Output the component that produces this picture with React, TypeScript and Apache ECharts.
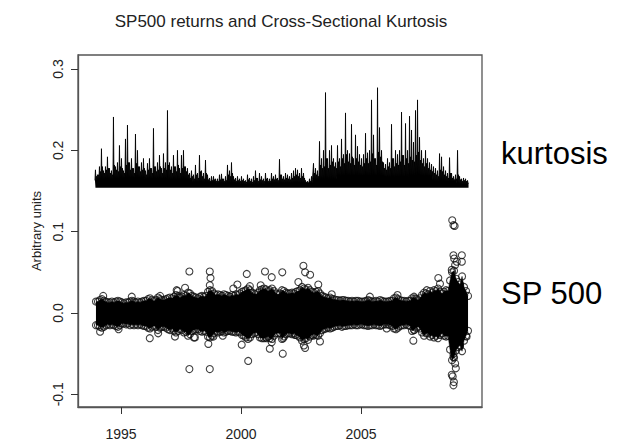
import React, { useEffect, useRef } from "react";
import * as echarts from "echarts";

// Time layout: first month is Dec 1993, then monthly through Jun 2009
const START_YEAR = 1993;
const START_MONTH = 11;

// Cross-sectional kurtosis (arbitrary units)
const KURT_BASE = 0.154; // lower edge of the kurtosis trace
// yearly top of the solid black part
const KURT_FLOOR = [0.163, 0.165, 0.166, 0.165, 0.164, 0.161, 0.16, 0.159, 0.16, 0.16, 0.164, 0.168, 0.168, 0.167, 0.168, 0.162, 0.159];
// monthly highest spike
const KURT_PEAKS: number[][] = [
  [0.176],
  [0.17, 0.18, 0.202, 0.175, 0.18, 0.192, 0.178, 0.175, 0.241, 0.18, 0.185, 0.206],
  [0.19, 0.175, 0.214, 0.231, 0.185, 0.19, 0.178, 0.22, 0.2, 0.18, 0.185, 0.19],
  [0.175, 0.184, 0.19, 0.178, 0.227, 0.18, 0.185, 0.194, 0.178, 0.196, 0.185, 0.249],
  [0.185, 0.18, 0.194, 0.18, 0.2, 0.178, 0.194, 0.2, 0.18, 0.178, 0.172, 0.175],
  [0.17, 0.182, 0.172, 0.194, 0.175, 0.172, 0.188, 0.17, 0.166, 0.168, 0.168, 0.165],
  [0.165, 0.17, 0.171, 0.165, 0.168, 0.182, 0.175, 0.185, 0.168, 0.166, 0.168, 0.165],
  [0.168, 0.165, 0.163, 0.17, 0.166, 0.165, 0.168, 0.175, 0.166, 0.172, 0.168, 0.165],
  [0.172, 0.166, 0.165, 0.172, 0.168, 0.17, 0.166, 0.189, 0.17, 0.168, 0.172, 0.17],
  [0.168, 0.172, 0.175, 0.178, 0.176, 0.172, 0.178, 0.172, 0.163, 0.162, 0.165, 0.168],
  [0.184, 0.178, 0.175, 0.211, 0.19, 0.2, 0.271, 0.19, 0.2, 0.206, 0.19, 0.185],
  [0.206, 0.19, 0.214, 0.195, 0.246, 0.2, 0.196, 0.232, 0.19, 0.219, 0.205, 0.195],
  [0.19, 0.195, 0.221, 0.197, 0.2, 0.262, 0.219, 0.19, 0.277, 0.228, 0.2, 0.185],
  [0.183, 0.19, 0.185, 0.232, 0.19, 0.2, 0.195, 0.2, 0.247, 0.194, 0.233, 0.2],
  [0.242, 0.225, 0.21, 0.249, 0.262, 0.216, 0.2, 0.19, 0.2, 0.19, 0.185, 0.183],
  [0.18, 0.178, 0.175, 0.196, 0.192, 0.18, 0.175, 0.172, 0.191, 0.172, 0.168, 0.17],
  [0.2, 0.168, 0.165, 0.166, 0.165, 0.163],
];
// monthly second-highest spike
const KURT_SECOND: number[][] = [
  [0.168],
  [0.17, 0.174, 0.18, 0.172, 0.176, 0.178, 0.172, 0.17, 0.182, 0.176, 0.174, 0.18],
  [0.178, 0.172, 0.182, 0.185, 0.176, 0.178, 0.172, 0.184, 0.18, 0.174, 0.176, 0.178],
  [0.17, 0.176, 0.178, 0.172, 0.18, 0.174, 0.176, 0.18, 0.172, 0.178, 0.176, 0.182],
  [0.176, 0.172, 0.18, 0.174, 0.182, 0.172, 0.178, 0.18, 0.174, 0.17, 0.166, 0.168],
  [0.165, 0.17, 0.166, 0.174, 0.168, 0.165, 0.172, 0.164, 0.162, 0.163, 0.164, 0.162],
  [0.162, 0.164, 0.165, 0.162, 0.163, 0.17, 0.168, 0.172, 0.164, 0.162, 0.163, 0.162],
  [0.163, 0.162, 0.161, 0.164, 0.162, 0.161, 0.163, 0.166, 0.162, 0.164, 0.163, 0.162],
  [0.165, 0.162, 0.162, 0.165, 0.164, 0.165, 0.163, 0.17, 0.165, 0.164, 0.166, 0.165],
  [0.164, 0.166, 0.168, 0.17, 0.168, 0.166, 0.168, 0.166, 0.161, 0.16, 0.162, 0.164],
  [0.172, 0.17, 0.168, 0.182, 0.178, 0.18, 0.19, 0.178, 0.182, 0.186, 0.18, 0.178],
  [0.186, 0.18, 0.19, 0.184, 0.195, 0.186, 0.184, 0.192, 0.182, 0.19, 0.186, 0.182],
  [0.18, 0.184, 0.19, 0.184, 0.186, 0.196, 0.19, 0.182, 0.198, 0.192, 0.186, 0.178],
  [0.176, 0.18, 0.178, 0.19, 0.18, 0.184, 0.182, 0.186, 0.194, 0.182, 0.19, 0.184],
  [0.192, 0.188, 0.186, 0.194, 0.198, 0.188, 0.184, 0.18, 0.184, 0.178, 0.176, 0.174],
  [0.172, 0.17, 0.168, 0.176, 0.174, 0.17, 0.168, 0.166, 0.172, 0.166, 0.164, 0.165],
  [0.17, 0.164, 0.162, 0.163, 0.162, 0.16],
];

// SP500 daily returns: upper / lower edge of the dense cloud per month
const RET_HI: number[][] = [
  [0.014],
  [0.014, 0.016, 0.017, 0.015, 0.014, 0.013, 0.013, 0.014, 0.013, 0.014, 0.015, 0.014],
  [0.013, 0.012, 0.013, 0.013, 0.014, 0.015, 0.014, 0.013, 0.014, 0.013, 0.014, 0.015],
  [0.015, 0.017, 0.018, 0.016, 0.015, 0.016, 0.019, 0.017, 0.016, 0.016, 0.017, 0.018],
  [0.019, 0.018, 0.02, 0.022, 0.021, 0.019, 0.02, 0.022, 0.021, 0.025, 0.024, 0.021],
  [0.02, 0.019, 0.018, 0.02, 0.021, 0.02, 0.021, 0.026, 0.028, 0.027, 0.024, 0.022],
  [0.023, 0.022, 0.021, 0.023, 0.022, 0.021, 0.02, 0.022, 0.021, 0.023, 0.022, 0.024],
  [0.026, 0.027, 0.028, 0.03, 0.028, 0.025, 0.024, 0.023, 0.025, 0.028, 0.029, 0.03],
  [0.029, 0.027, 0.028, 0.03, 0.027, 0.024, 0.023, 0.024, 0.028, 0.027, 0.025, 0.024],
  [0.024, 0.025, 0.024, 0.026, 0.027, 0.028, 0.032, 0.03, 0.029, 0.031, 0.028, 0.026],
  [0.025, 0.026, 0.027, 0.024, 0.021, 0.02, 0.019, 0.018, 0.019, 0.017, 0.017, 0.016],
  [0.016, 0.015, 0.016, 0.016, 0.015, 0.015, 0.014, 0.015, 0.014, 0.015, 0.015, 0.014],
  [0.014, 0.014, 0.015, 0.016, 0.015, 0.014, 0.014, 0.015, 0.014, 0.016, 0.015, 0.014],
  [0.014, 0.014, 0.015, 0.015, 0.018, 0.019, 0.017, 0.016, 0.015, 0.015, 0.014, 0.015],
  [0.015, 0.018, 0.02, 0.017, 0.016, 0.018, 0.022, 0.025, 0.024, 0.023, 0.027, 0.025],
  [0.028, 0.027, 0.03, 0.026, 0.024, 0.026, 0.028, 0.027, 0.04, 0.05, 0.052, 0.042],
  [0.038, 0.035, 0.045, 0.032, 0.027, 0.021],
];
const RET_LO: number[][] = [
  [-0.015],
  [-0.015, -0.017, -0.018, -0.017, -0.015, -0.014, -0.015, -0.014, -0.015, -0.016, -0.017, -0.015],
  [-0.013, -0.013, -0.014, -0.013, -0.015, -0.014, -0.015, -0.014, -0.015, -0.014, -0.015, -0.016],
  [-0.016, -0.018, -0.019, -0.017, -0.016, -0.017, -0.021, -0.018, -0.017, -0.017, -0.018, -0.02],
  [-0.021, -0.019, -0.022, -0.024, -0.022, -0.02, -0.021, -0.024, -0.023, -0.028, -0.026, -0.022],
  [-0.021, -0.02, -0.02, -0.022, -0.023, -0.022, -0.023, -0.029, -0.03, -0.028, -0.025, -0.023],
  [-0.024, -0.023, -0.022, -0.024, -0.023, -0.022, -0.022, -0.023, -0.023, -0.024, -0.023, -0.024],
  [-0.027, -0.028, -0.03, -0.032, -0.03, -0.026, -0.025, -0.024, -0.026, -0.03, -0.031, -0.031],
  [-0.03, -0.029, -0.031, -0.032, -0.028, -0.025, -0.025, -0.025, -0.032, -0.029, -0.026, -0.025],
  [-0.025, -0.026, -0.025, -0.027, -0.028, -0.03, -0.034, -0.032, -0.031, -0.033, -0.029, -0.027],
  [-0.026, -0.027, -0.028, -0.025, -0.021, -0.02, -0.019, -0.018, -0.019, -0.018, -0.017, -0.016],
  [-0.016, -0.015, -0.017, -0.016, -0.016, -0.015, -0.015, -0.015, -0.014, -0.015, -0.015, -0.014],
  [-0.014, -0.015, -0.015, -0.016, -0.015, -0.015, -0.014, -0.015, -0.015, -0.016, -0.015, -0.014],
  [-0.014, -0.014, -0.015, -0.016, -0.019, -0.02, -0.018, -0.016, -0.015, -0.015, -0.014, -0.015],
  [-0.016, -0.022, -0.021, -0.018, -0.017, -0.019, -0.024, -0.028, -0.025, -0.025, -0.029, -0.027],
  [-0.03, -0.028, -0.031, -0.027, -0.025, -0.028, -0.029, -0.028, -0.045, -0.058, -0.055, -0.046],
  [-0.042, -0.04, -0.047, -0.034, -0.028, -0.022],
];

// Isolated return observations outside the dense cloud: [year, return]
const RET_OUTLIERS: [number, number][] = [
  [1994.13, -0.023], [1994.26, 0.021], [1994.9, -0.02], [1995.45, 0.02], [1996.2, -0.031],
  [1996.55, -0.025], [1996.63, 0.021], [1997.25, -0.029], [1997.32, 0.028], [1997.36, 0.027],
  [1997.67, 0.031], [1997.85, 0.051], [1997.85, -0.069], [1998.04, -0.03], [1998.08, -0.03],
  [1998.64, -0.038], [1998.7, 0.051], [1998.73, 0.043], [1998.7, 0.034], [1998.7, -0.069],
  [1998.85, -0.029], [1999.24, -0.028], [1999.68, 0.03], [1999.85, 0.035], [2000.03, -0.039],
  [2000.24, 0.048], [2000.3, -0.059], [2000.37, 0.033], [2000.82, 0.034], [2001.0, 0.051],
  [2001.07, -0.031], [2001.2, -0.044], [2001.28, 0.044], [2001.28, -0.036], [2001.72, 0.05],
  [2001.74, -0.05], [2001.76, -0.031], [2002.25, -0.027], [2002.39, 0.038], [2002.6, 0.058],
  [2002.62, -0.04], [2002.67, 0.05], [2002.67, -0.043], [2002.88, 0.047], [2003.01, -0.028],
  [2003.22, 0.035], [2003.29, -0.035], [2003.78, 0.023], [2005.37, 0.02], [2006.07, -0.019],
  [2006.52, 0.022], [2007.18, -0.034], [2007.22, -0.021], [2007.25, 0.018], [2007.74, 0.028],
  [2008.22, 0.043], [2008.29, 0.036], [2008.78, 0.053], [2008.78, -0.076], [2008.85, 0.108],
  [2008.85, 0.071], [2008.85, -0.089], [2008.87, -0.085], [2008.85, -0.05], [2008.85, -0.054],
  [2008.92, 0.059], [2008.92, -0.062], [2008.95, -0.068], [2008.99, 0.063], [2009.2, 0.071],
  [2009.2, 0.063], [2009.12, -0.041], [2009.4, -0.029], [2008.8, 0.114], [2008.9, 0.107],
  [2008.82, -0.078], [2008.88, 0.067],
];

const X_TICKS = [1995, 2000, 2005];
const Y_TICKS = [-0.1, 0, 0.1, 0.2, 0.3];
const TITLE = "SP500 returns and Cross-Sectional Kurtosis";
const Y_NAME = "Arbitrary units";
const LABEL_KURT = "kurtosis";
const LABEL_SP = "SP 500";

const FONT = "'Liberation Sans', Arial, Helvetica, sans-serif";

function monthTime(yi: number, j: number) {
  const m0 = yi === 0 ? START_MONTH : 0;
  return START_YEAR + yi + (m0 + j) / 12;
}

export default function App() {
  const ref = useRef<HTMLDivElement>(null);
  useEffect(() => {
    if (!ref.current) return;
    const chart = echarts.init(ref.current, undefined, { renderer: "svg" });

    const kurtLine: number[][] = [];
    KURT_PEAKS.forEach((row, yi) => {
      const floor = KURT_FLOOR[yi];
      row.forEach((peak, j) => {
        const t = monthTime(yi, j);
        kurtLine.push(
          [t, floor],
          [t + 1 / 48, peak],
          [t + 2 / 48, floor],
          [t + 3 / 48, KURT_SECOND[yi][j]]
        );
      });
    });
    const hi: number[][] = [];
    const lo: number[][] = [];
    RET_HI.forEach((row, yi) => row.forEach((v, j) => hi.push([monthTime(yi, j) + 1 / 24, v])));
    RET_LO.forEach((row, yi) => row.forEach((v, j) => lo.push([monthTime(yi, j) + 1 / 24, v])));

    const axisColor = "#333";
    chart.setOption({
      animation: false,
      backgroundColor: "#fff",
      textStyle: { fontFamily: FONT },
      grid: { left: 78, top: 55, right: 147, bottom: 40, show: true, borderColor: "#555", borderWidth: 1.3 },
      xAxis: {
        type: "value",
        min: 1993.21,
        max: 2010.04,
        splitLine: { show: false },
        axisLine: { show: true, onZero: false, lineStyle: { color: "#555", width: 1.3 } },
        axisTick: { show: true, customValues: X_TICKS, length: 7, lineStyle: { color: axisColor, width: 1 } },
        axisLabel: {
          customValues: X_TICKS,
          fontSize: 14,
          color: "#222",
          margin: 20,
          fontFamily: FONT,
          formatter: (v: number) => String(Math.round(v)),
        },
      },
      yAxis: {
        type: "value",
        min: -0.1156,
        max: 0.3172,
        name: Y_NAME,
        nameLocation: "middle",
        nameGap: 34,
        nameTextStyle: { fontSize: 13, color: "#222", fontFamily: FONT },
        splitLine: { show: false },
        axisLine: { show: true, onZero: false, lineStyle: { color: "#555", width: 1.3 } },
        axisTick: { show: true, customValues: Y_TICKS, length: 7, lineStyle: { color: axisColor, width: 1 } },
        axisLabel: {
          customValues: Y_TICKS,
          rotate: 90,
          fontSize: 14,
          color: "#222",
          margin: 13,
          fontFamily: FONT,
          formatter: (v: number) => v.toFixed(1),
        },
      },
      graphic: [
        { type: "text", x: 281, y: 21, style: { text: TITLE, font: `17px ${FONT}`, fill: "#222", textAlign: "center", textVerticalAlign: "middle" } },
        { type: "text", x: 501, y: 153, style: { text: LABEL_KURT, font: `31px ${FONT}`, fill: "#000", textAlign: "left", textVerticalAlign: "middle" } },
        { type: "text", x: 501, y: 293, style: { text: LABEL_SP, font: `31px ${FONT}`, fill: "#000", textAlign: "left", textVerticalAlign: "middle" } },
      ],
      series: [
        {
          type: "line",
          data: kurtLine,
          showSymbol: false,
          silent: true,
          lineStyle: { color: "#000", width: 0.9 },
          areaStyle: { color: "#000", opacity: 1, origin: KURT_BASE },
        },
        {
          type: "line",
          data: hi,
          showSymbol: false,
          silent: true,
          lineStyle: { color: "#000", width: 0.5 },
          areaStyle: { color: "#000", opacity: 1, origin: 0 },
        },
        {
          type: "line",
          data: lo,
          showSymbol: false,
          silent: true,
          lineStyle: { color: "#000", width: 0.5 },
          areaStyle: { color: "#000", opacity: 1, origin: 0 },
        },
        {
          type: "scatter",
          data: [...hi, ...lo, ...RET_OUTLIERS],
          symbol: "circle",
          symbolSize: 7,
          silent: true,
          itemStyle: { color: "rgba(0,0,0,0)", borderColor: "#111", borderWidth: 1.1 },
        },
      ],
    });
    return () => chart.dispose();
  }, []);
  return <div ref={ref} style={{ position: "fixed", left: 0, top: 0, width: 629, height: 447 }} />;
}
